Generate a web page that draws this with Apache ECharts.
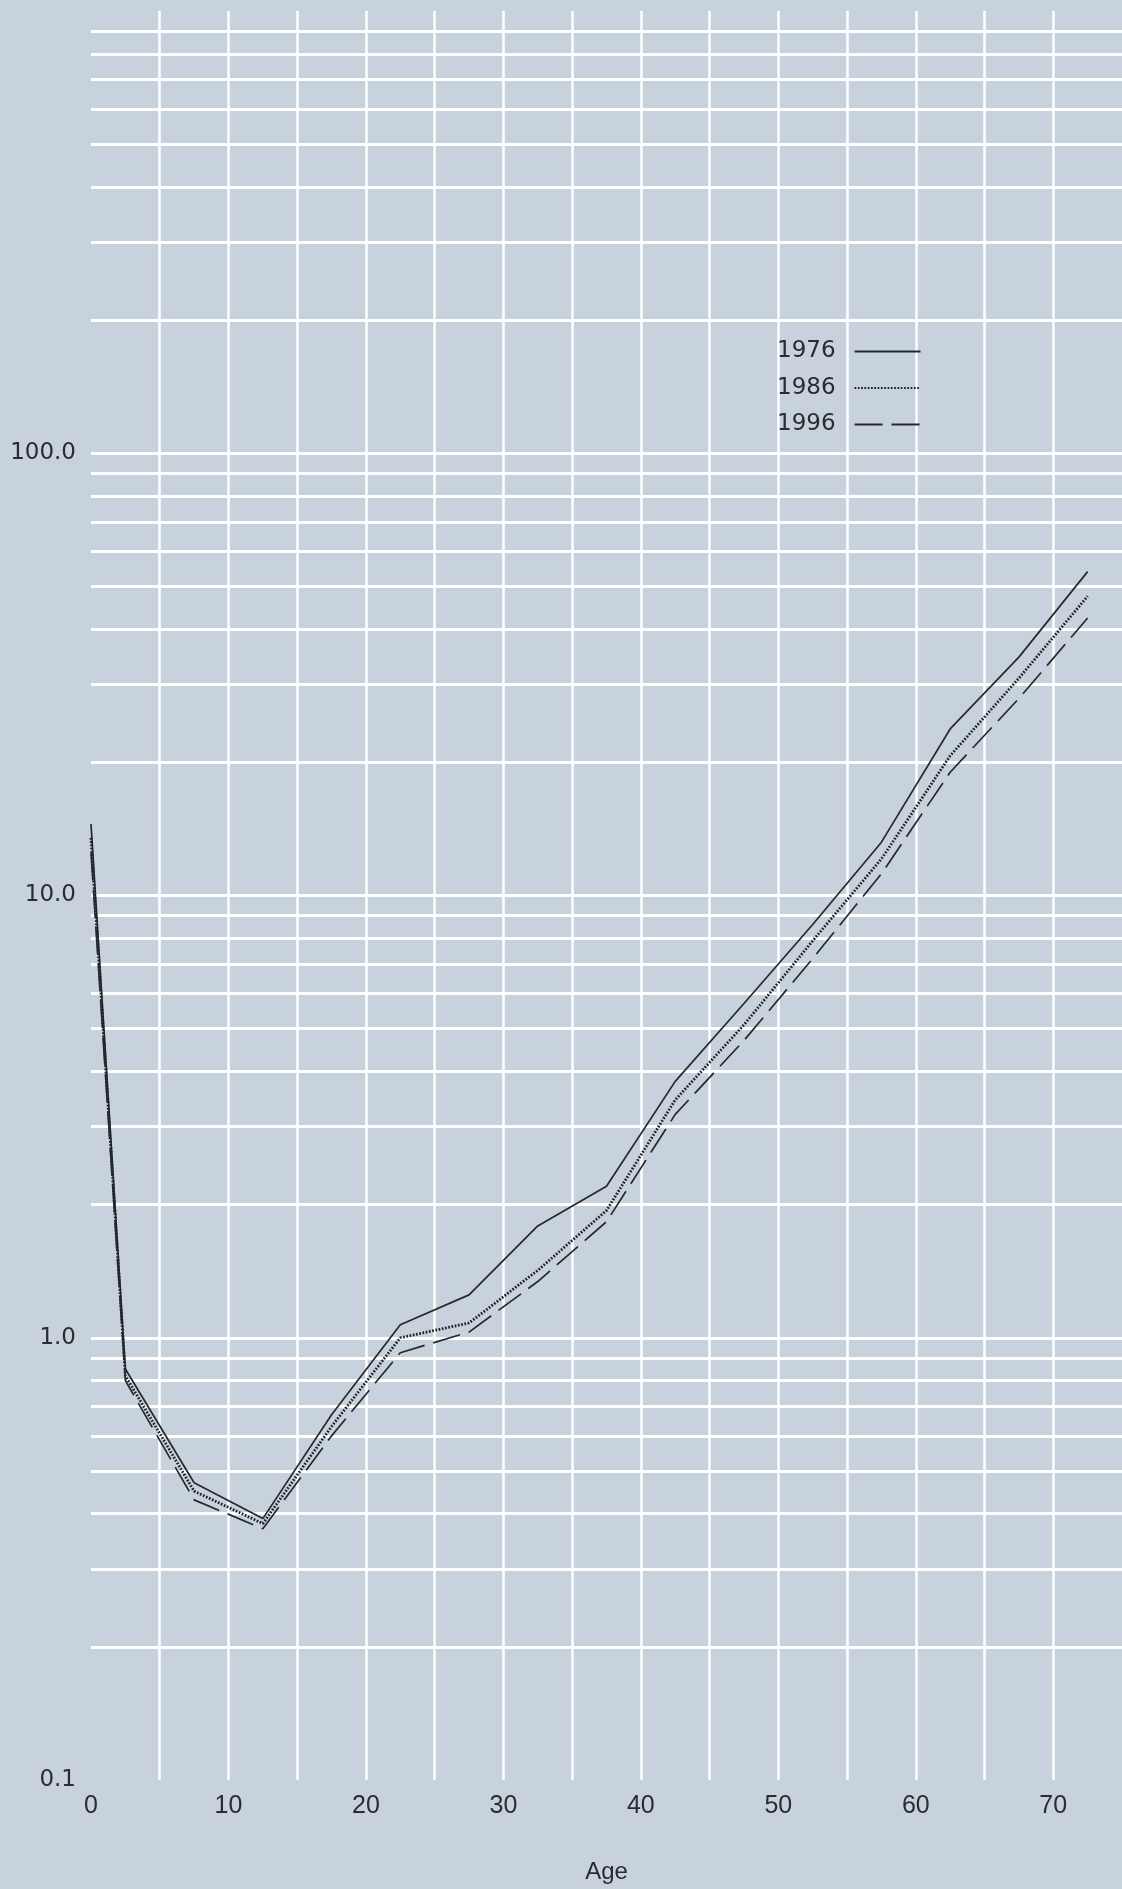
<!DOCTYPE html>
<html>
<head>
<meta charset="utf-8">
<title>Death rates by age, 1976-1996</title>
<script src="https://cdn.jsdelivr.net/npm/echarts@6.0.0/dist/echarts.min.js"></script>
<style>
html, body { margin: 0; padding: 0; background: #c8d2dc; }
#main { width: 1122px; height: 1889px; }
</style>
</head>
<body>
<div id="main"></div>
<script>
// age group midpoints
const ages = [0, 2.5, 7.5, 12.5, 17.5, 22.5, 27.5, 32.5, 37.5, 42.5, 47.5, 52.5, 57.5, 62.5, 67.5, 72.5]
const rates1976 = [14.5, 0.85, 0.47, 0.39, 0.67, 1.07, 1.25, 1.79, 2.2, 3.8, 5.7, 8.6, 13.2, 23.8, 34.6, 54]
const rates1986 = [13.5, 0.82, 0.45, 0.38, 0.63, 1.0, 1.08, 1.42, 1.94, 3.45, 5.1, 7.9, 12.1, 20.7, 31, 47.5]
const rates1996 = [12.5, 0.8, 0.43, 0.37, 0.6, 0.925, 1.03, 1.34, 1.83, 3.2, 4.7, 7.2, 11.2, 19, 27.9, 42.4]

// log paper rulings
const yGridValues = [
	0.2, 0.3, 0.4, 0.5, 0.6, 0.7, 0.8, 0.9,
	1, 2, 3, 4, 5, 6, 7, 8, 9,
	10, 20, 30, 40, 50, 60, 70, 80, 90,
	100, 200, 300, 400, 500, 600, 700, 800, 900
]
const yLabelValues = [0.1, 1, 10, 100]
const xGridValues = [5, 10, 15, 20, 25, 30, 35, 40, 45, 50, 55, 60, 65, 70]
const xLabelValues = [0, 10, 20, 30, 40, 50, 60, 70]

const INK = '#25282c'
const TEXT = '#2a2c2f'

const pairs = (values) => ages.map((a, i) => [a, values[i]])

const chart = echarts.init(document.getElementById('main'))

chart.setOption({
	backgroundColor: '#c8d2dc',
	animation: false,
	textStyle: {
		fontFamily: 'Liberation Sans, Arial, sans-serif',
		color: TEXT
	},
	grid: {
		left: 91,
		top: 11,
		width: 1039,
		height: 1772
	},
	legend: {
		orient: 'vertical',
		left: 777,
		top: 340,
		padding: 0,
		align: 'right',
		itemWidth: 66,
		itemHeight: 14,
		itemGap: 13.5,
		itemStyle: {color: 'transparent', borderWidth: 0, opacity: 0},
		textStyle: {
			fontFamily: 'DejaVu Sans, sans-serif',
			fontSize: 23,
			lineHeight: 22,
			color: TEXT,
			padding: [0, 14, 0, 0]
		},
		data: ['1976', '1986', '1996']
	},
	xAxis: {
		type: 'value',
		min: 0,
		max: 75,
		name: 'Age',
		nameLocation: 'middle',
		nameGap: 80,
		nameTextStyle: {
			fontSize: 24,
			color: TEXT
		},
		axisLine: {show: false},
		axisTick: {show: false, customValues: xGridValues},
		axisLabel: {
			customValues: xLabelValues,
			fontSize: 25,
			margin: 14,
			color: TEXT
		},
		splitLine: {
			show: true,
			lineStyle: {color: '#ffffff', width: 2.5}
		}
	},
	yAxis: {
		type: 'log',
		logBase: 10,
		min: 0.1,
		max: 1000,
		axisLine: {show: false},
		axisTick: {show: false, customValues: yGridValues},
		axisLabel: {
			customValues: yLabelValues,
			fontFamily: 'DejaVu Sans, sans-serif',
			fontSize: 23,
			margin: 15,
			color: TEXT,
			formatter: (v) => Number(v).toFixed(1)
		},
		splitLine: {
			show: true,
			lineStyle: {color: '#ffffff', width: 3}
		}
	},
	series: [
		{
			name: '1976',
			type: 'line',
			data: pairs(rates1976),
			symbol: 'none',
			silent: true,
			lineStyle: {color: INK, width: 1.7, type: 'solid'}
		},
		{
			name: '1986',
			type: 'line',
			data: pairs(rates1986),
			symbol: 'none',
			silent: true,
			lineStyle: {color: '#1e2024', width: 2.8, type: [1.7, 1.6]}
		},
		{
			name: '1996',
			type: 'line',
			data: pairs(rates1996),
			symbol: 'none',
			silent: true,
			lineStyle: {color: INK, width: 1.7, type: [28, 9]}
		}
	]
})
</script>
</body>
</html>
